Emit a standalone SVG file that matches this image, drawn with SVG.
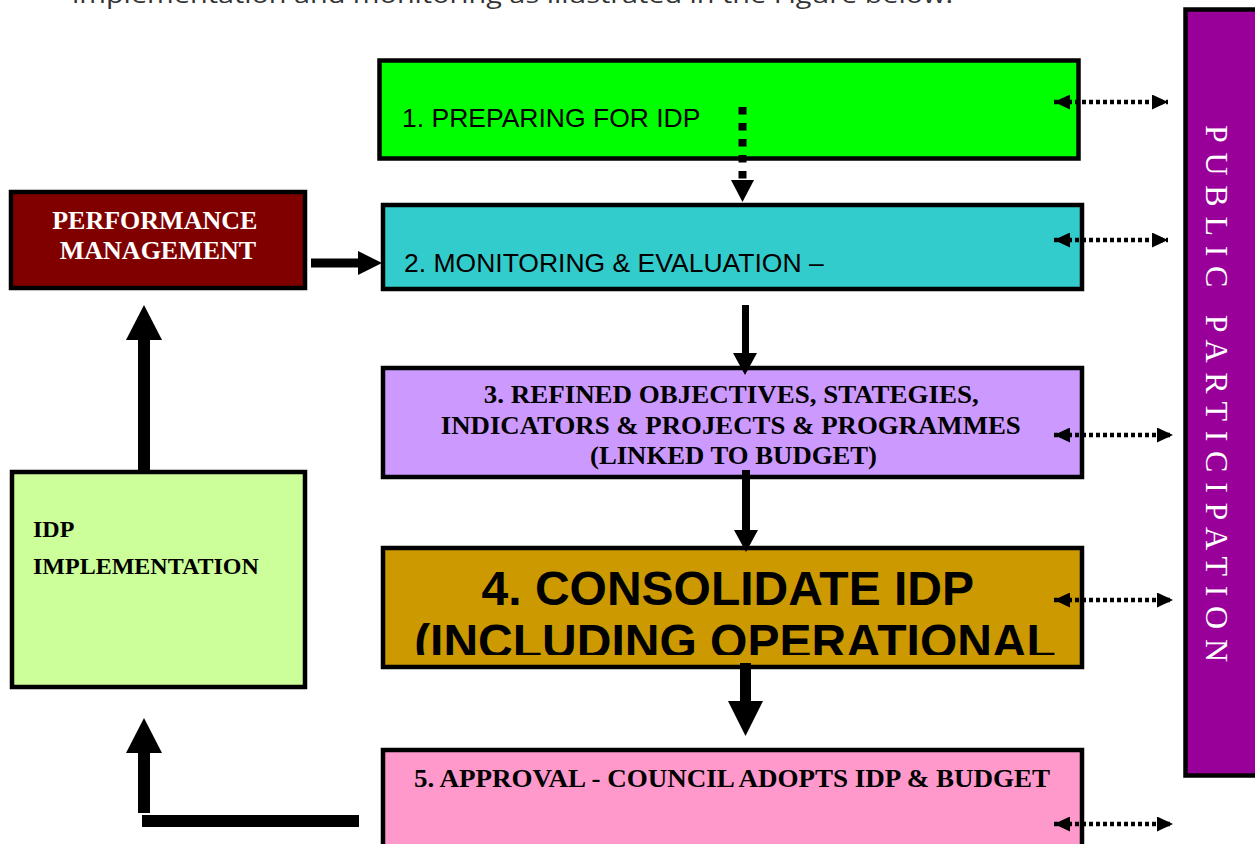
<svg xmlns="http://www.w3.org/2000/svg" width="1255" height="844" viewBox="0 0 1255 844">
<style>
.box{stroke:#000;stroke-width:4.5}
.sans{font-family:"Liberation Sans",Arial,sans-serif;fill:#000}
.serifb{font-family:"Liberation Serif","Times New Roman",serif;font-weight:bold;fill:#000}
.dot{stroke:#000;stroke-width:4.5;stroke-dasharray:4 3;fill:none}
.shaft{fill:#000}
</style>
<defs>
<marker id="dh" viewBox="0 0 16 15" refX="16" refY="7.5" markerWidth="16" markerHeight="15" markerUnits="userSpaceOnUse" orient="auto-start-reverse">
<path d="M0,0L16,7.5L0,15z" fill="#000"/>
</marker>
<clipPath id="clip4"><rect x="383" y="548" width="699" height="107"/></clipPath>
</defs>
<rect width="1255" height="844" fill="#fff"/>
<text x="72" y="3" font-family="'Open Sans',sans-serif" font-size="24" fill="#333" textLength="881" lengthAdjust="spacingAndGlyphs">implementation and monitoring as illustrated in the Figure below.</text>

<g id="public">
<rect class="box" x="1185.5" y="9.5" width="100" height="766" fill="#990099"/>
<text transform="translate(1206,125) rotate(90)" font-family="'Liberation Serif','Times New Roman',serif" font-size="32" fill="#fff" textLength="537" lengthAdjust="spacing">PUBLIC PARTICIPATION</text>
</g>

<g id="n1">
<rect class="box" x="379.5" y="60.5" width="699" height="98" fill="#00FF00"/>
<text class="sans" x="402" y="127" font-size="26.5">1. PREPARING FOR IDP</text>
</g>
<g id="n2">
<rect class="box" x="383" y="205" width="699" height="84" fill="#33CCCC"/>
<text class="sans" x="404" y="272" font-size="26.5">2. MONITORING &amp; EVALUATION –</text>
</g>
<g id="n3">
<rect class="box" x="383" y="368" width="699" height="109" fill="#CC99FF"/>
<text class="serifb" font-size="26" text-anchor="middle">
<tspan x="734.5" y="403" textLength="495" lengthAdjust="spacingAndGlyphs">3. REFINED OBJECTIVES, STATEGIES,</tspan>
<tspan x="734" y="434" textLength="580" lengthAdjust="spacingAndGlyphs">INDICATORS &amp; PROJECTS &amp; PROGRAMMES</tspan>
<tspan x="733.5" y="464" textLength="287" lengthAdjust="spacingAndGlyphs">(LINKED TO BUDGET)</tspan>
</text>
</g>
<g id="n4">
<rect class="box" x="383" y="548" width="699" height="119" fill="#CC9900"/>
<g clip-path="url(#clip4)">
<text class="sans" font-size="48" font-weight="bold" text-anchor="middle">
<tspan x="734" y="605">4. CONSOLIDATE IDP</tspan>
<tspan x="735" y="658">(INCLUDING OPERATIONAL</tspan>
</text>
</g>
</g>
<g id="n5">
<rect class="box" x="383" y="750" width="699" height="110" fill="#FF99CC"/>
<text class="serifb" x="732" y="787" font-size="25" text-anchor="middle" textLength="636" lengthAdjust="spacingAndGlyphs">5. APPROVAL - COUNCIL ADOPTS IDP &amp; BUDGET</text>
</g>
<g id="perf">
<rect class="box" x="11" y="192" width="294" height="96" fill="#800000"/>
<text class="serifb" font-size="26" text-anchor="middle" style="fill:#fff">
<tspan x="158" y="229">PERFORMANCE</tspan>
<tspan x="158" y="259">MANAGEMENT</tspan>
</text>
</g>
<g id="impl">
<rect class="box" x="12" y="472" width="293" height="215" fill="#CCFF99"/>
<text class="serifb" font-size="24">
<tspan x="33" y="537">IDP</tspan>
<tspan x="33" y="574">IMPLEMENTATION</tspan>
</text>
</g>

<g id="connectors">
<!-- 1 to 2 dotted -->
<line x1="742.5" y1="107" x2="742.5" y2="180" stroke="#000" stroke-width="8" stroke-dasharray="7.5 8.5"/>
<polygon points="731,180 754,180 742.5,202" fill="#000"/>
<!-- 2 to 3 -->
<rect class="shaft" x="742" y="305" width="7" height="49"/>
<polygon points="733,353 757,353 745,375" fill="#000"/>
<!-- 3 to 4 -->
<rect class="shaft" x="742" y="470" width="8" height="61"/>
<polygon points="734,530 758,530 746,552" fill="#000"/>
<!-- 4 to 5 -->
<rect class="shaft" x="740" y="663" width="11" height="39"/>
<polygon points="728,701 763,701 745.5,736" fill="#000"/>
<!-- perf to 2 -->
<rect class="shaft" x="311" y="258.5" width="49" height="9"/>
<polygon points="358,251 382,263 358,275" fill="#000"/>
<!-- impl to perf -->
<rect class="shaft" x="138" y="338" width="12" height="134"/>
<polygon points="126,340 144,305 162,340" fill="#000"/>
<!-- 5 to impl -->
<rect class="shaft" x="142" y="815" width="217" height="12"/>
<rect class="shaft" x="138" y="751" width="12" height="62"/>
<polygon points="126,753 144,718 162,753" fill="#000"/>
<!-- public participation links -->
<line class="dot" x1="1054" y1="102" x2="1168" y2="102" marker-start="url(#dh)" marker-end="url(#dh)"/>
<line class="dot" x1="1054" y1="240" x2="1168" y2="240" marker-start="url(#dh)" marker-end="url(#dh)"/>
<line class="dot" x1="1054" y1="435" x2="1173" y2="435" marker-start="url(#dh)" marker-end="url(#dh)"/>
<line class="dot" x1="1054" y1="600" x2="1173" y2="600" marker-start="url(#dh)" marker-end="url(#dh)"/>
<line class="dot" x1="1054" y1="824" x2="1173" y2="824" marker-start="url(#dh)" marker-end="url(#dh)"/>
</g>
</svg>
